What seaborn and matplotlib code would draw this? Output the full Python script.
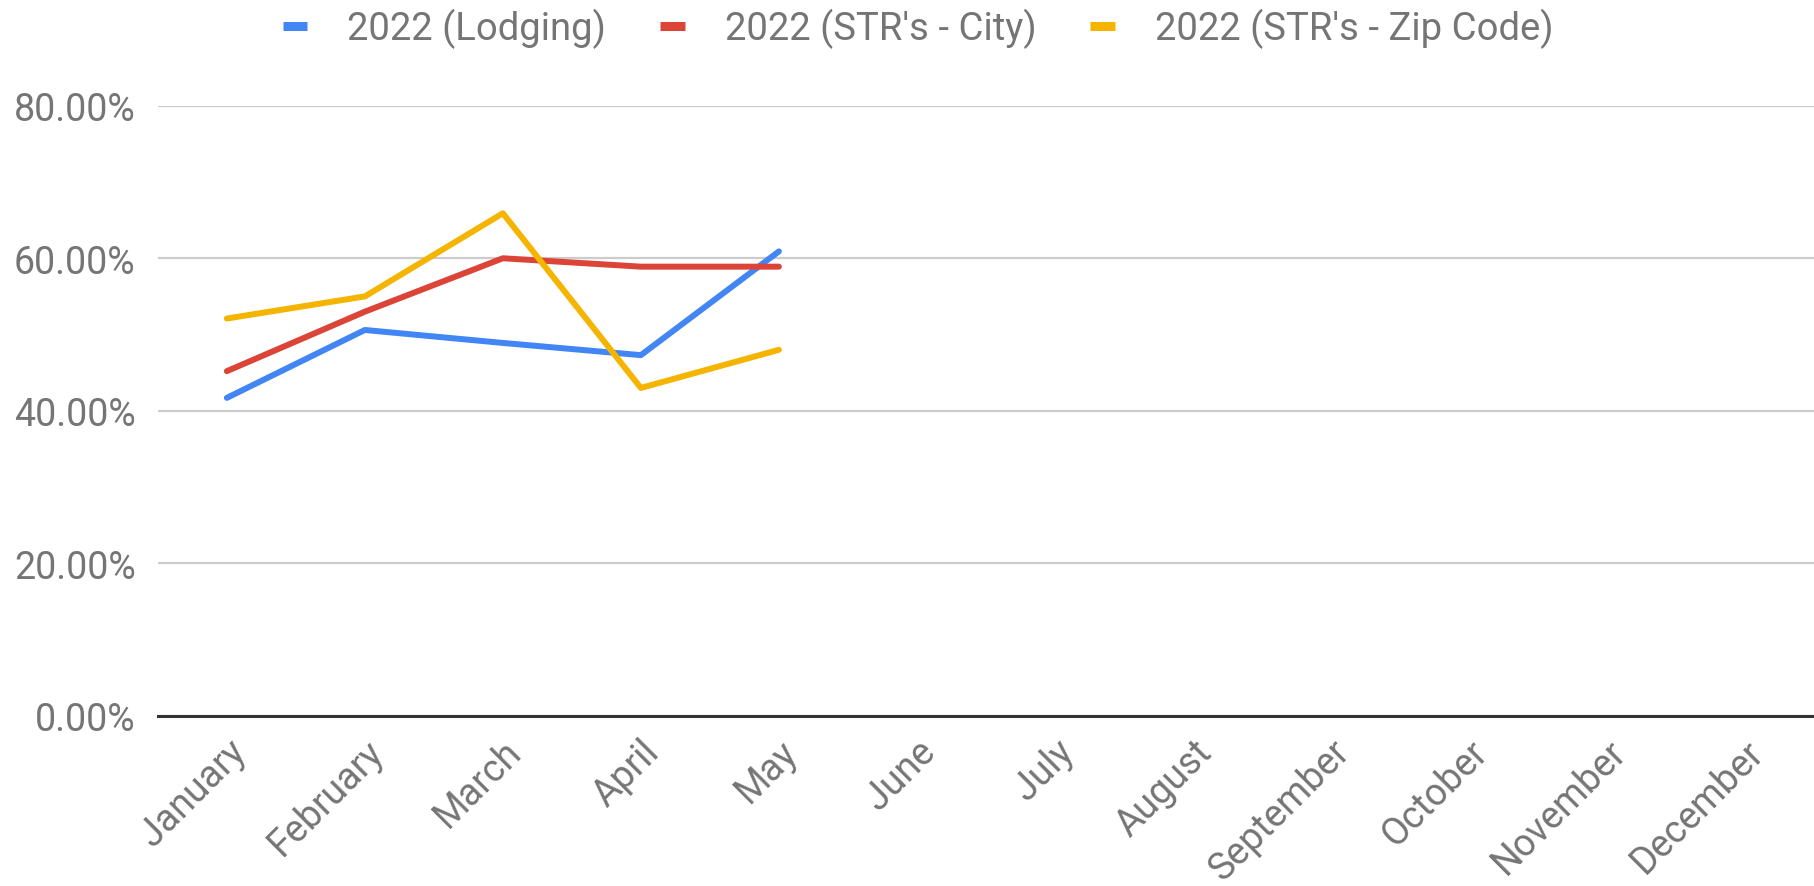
import matplotlib
matplotlib.use("Agg")
import matplotlib.pyplot as plt
from matplotlib.lines import Line2D
import seaborn as sns
import pandas as pd
from matplotlib.ticker import FuncFormatter

months = ["January", "February", "March", "April", "May", "June", "July",
          "August", "September", "October", "November", "December"]
observed_months = ["January", "February", "March", "April", "May"]
lodging = [41.7, 50.6, 48.9, 47.3, 60.9]
str_city = [45.2, 53.0, 60.0, 58.9, 58.9]
str_zip = [52.1, 55.0, 65.9, 43.0, 48.0]
series_names = ["2022 (Lodging)", "2022 (STR's - City)", "2022 (STR's - Zip Code)"]
colors = ["#4285F4", "#DB4437", "#F4B400"]
yticks = [0, 20, 40, 60, 80]

rows = []
for name, vals in zip(series_names, [lodging, str_city, str_zip]):
    for m, v in zip(observed_months, vals):
        rows.append({"month": m, "pos": months.index(m), "value": v, "series": name})
df = pd.DataFrame(rows)

sns.set_theme(style="white")
plt.rcParams["font.family"] = ["Roboto", "DejaVu Sans"]

fig = plt.figure(figsize=(18.14, 8.87), dpi=100)
ax = fig.add_axes([0.087, 0.1917, 0.913, 0.688])

sns.lineplot(data=df, x="pos", y="value", hue="series", hue_order=series_names,
             palette=colors, linewidth=4.3, ax=ax, legend=False, sort=True)

ax.set_xlim(-0.5, 11.5)
ax.set_ylim(0, 80)
ax.set_yticks(yticks)
ax.yaxis.set_major_formatter(FuncFormatter(lambda v, p: f"{v:.2f}%"))
ax.set_xticks(range(len(months)))
ax.set_xticklabels(months, rotation=45, ha="right", rotation_mode="anchor")
ax.set_xlabel("")
ax.set_ylabel("")

ax.grid(axis="y", color="#cccccc", linewidth=1.6)
ax.grid(axis="x", visible=False)
ax.set_axisbelow(True)
for s in ["top", "right", "left"]:
    ax.spines[s].set_visible(False)
ax.spines["bottom"].set_color("#333333")
ax.spines["bottom"].set_linewidth(2.2)
ax.spines["bottom"].set_zorder(5)

ax.tick_params(axis="both", length=0, labelsize=27, labelcolor="#757575")
ax.tick_params(axis="y", pad=16)
ax.tick_params(axis="x", pad=12)

handles = [Line2D([], [], color=c, linewidth=6.5, solid_capstyle="butt") for c in colors]
fig.legend(handles, series_names, loc="center", bbox_to_anchor=(0.506, 0.967), ncol=3,
           frameon=False, fontsize=27.5, labelcolor="#757575", handlelength=0.65,
           handletextpad=1.05, columnspacing=1.4)

fig.savefig("out.png", dpi=100)
